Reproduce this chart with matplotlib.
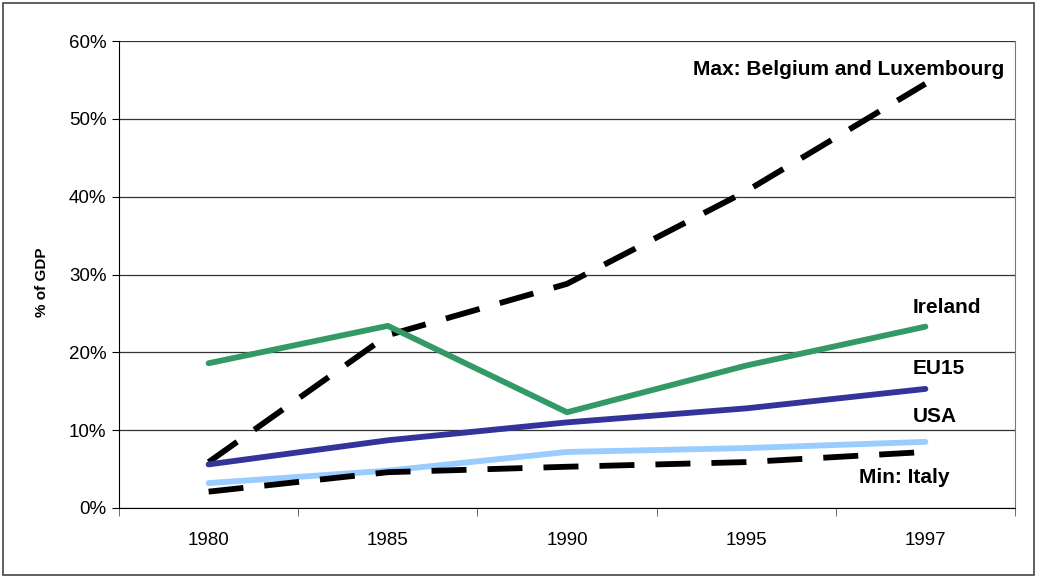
import matplotlib
matplotlib.use("Agg")
import matplotlib.pyplot as plt
from matplotlib.patches import Rectangle
from matplotlib.ticker import FuncFormatter, FixedLocator

years = ["1980", "1985", "1990", "1995", "1997"]
ireland = [18.6, 23.4, 12.3, 18.3, 23.3]
eu15 = [5.6, 8.7, 11.0, 12.8, 15.3]
usa = [3.2, 4.8, 7.2, 7.7, 8.5]
max_bel_lux = [5.9, 22.2, 28.8, 40.7, 54.5]
min_italy = [2.1, 4.6, 5.3, 5.9, 7.2]

plt.rcParams['font.family'] = ['Liberation Sans', 'DejaVu Sans']

fig = plt.figure(figsize=(10.37, 5.78), dpi=100)
ax = fig.add_axes([119/1037, 70/578, (1015-119)/1037, (508-41)/578])

x = list(range(len(years)))
lw = 4.2
ax.plot(x, max_bel_lux, color='black', lw=lw, dashes=(6, 3.6), dash_capstyle='butt', zorder=3)
ax.plot(x, min_italy, color='black', lw=lw, dashes=(6, 3.6), dash_capstyle='butt', zorder=3)
ax.plot(x, ireland, color='#339966', lw=lw, solid_capstyle='round', zorder=4)
ax.plot(x, eu15, color='#333399', lw=lw, solid_capstyle='round', zorder=4)
ax.plot(x, usa, color='#99CCFF', lw=lw, solid_capstyle='round', zorder=2)

ax.set_xlim(-0.5, 4.5)
ax.set_ylim(0, 60)
ax.set_yticks(range(0, 61, 10))
ax.yaxis.set_major_formatter(FuncFormatter(lambda v, p: f"{int(v)}%"))
ax.set_xticks(x)
ax.set_xticklabels(years)
ax.xaxis.set_minor_locator(FixedLocator([-0.5, 0.5, 1.5, 2.5, 3.5, 4.5]))
ax.tick_params(axis='x', which='major', length=0, labelsize=13.5, pad=17)
ax.tick_params(axis='x', which='minor', length=6, direction='out', color='#555555')
ax.tick_params(axis='y', length=5, direction='out', labelsize=13.5, pad=4)
ax.grid(axis='y', color='#333333', lw=0.9, zorder=1)
ax.set_axisbelow(True)

ax.spines['top'].set_visible(False)
ax.spines['right'].set_color('#777777')
ax.spines['left'].set_color('black')
ax.spines['bottom'].set_color('black')

ax.set_ylabel('% of GDP', fontsize=11, fontweight='bold')
ax.yaxis.set_label_coords(-0.078, 0.484)

fs = 15
ax.text(4.44, 56.3, 'Max: Belgium and Luxembourg', ha='right', va='center', fontsize=fs, fontweight='bold')
ax.text(3.93, 25.8, 'Ireland', ha='left', va='center', fontsize=fs, fontweight='bold')
ax.text(3.93, 17.9, 'EU15', ha='left', va='center', fontsize=fs, fontweight='bold')
ax.text(3.93, 11.7, 'USA', ha='left', va='center', fontsize=fs, fontweight='bold')
ax.text(3.63, 3.9, 'Min: Italy', ha='left', va='center', fontsize=fs, fontweight='bold')

fig.patches.append(Rectangle((3/1037, 3/578), 1 - 6/1037, 1 - 6/578, transform=fig.transFigure,
                             fill=False, edgecolor='#444444', lw=1.2))

fig.savefig('out.png', dpi=100)
